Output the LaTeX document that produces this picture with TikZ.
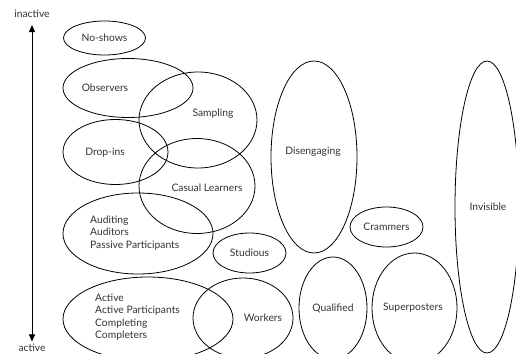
\documentclass[tikz,border=0pt]{standalone}
\usepackage{fontspec}
\setmainfont{Lato}
\usetikzlibrary{shapes.geometric, arrows.meta}

\tikzset{
  blob/.style={draw, ellipse, line width=0.8pt, inner sep=0pt},
  lbl/.style={text=black!80, font=\fontsize{10.3}{12.3}\selectfont, inner sep=1pt},
}

\begin{document}
\begin{tikzpicture}[x=1pt, y=-1pt]
  \useasboundingbox (0,0) rectangle (516,353);

  \node[lbl] (inactive) at (32,14) {inactive};
  \node[lbl, anchor=south] (active) at (32,352.5) {active};
  \draw[{Triangle[length=7pt,width=6pt]}-{Triangle[length=7pt,width=6pt]}, line width=0.9pt, shorten <=6pt, shorten >=1pt] (inactive) -- (active);

  \node[blob, minimum width=82pt, minimum height=34pt] (noshows) at (104.5,38) {};
  \node[blob, minimum width=130pt, minimum height=59pt] (observers) at (128,88) {};
  \node[blob, minimum width=118pt, minimum height=96pt] (sampling) at (198,120) {};
  \node[blob, minimum width=105pt, minimum height=65pt] (dropins) at (115.5,152) {};
  \node[blob, minimum width=116pt, minimum height=95pt] (casual) at (197,186) {};
  \node[blob, minimum width=150pt, minimum height=81pt] (auditing) at (138,233.5) {};
  \node[blob, minimum width=73pt, minimum height=40pt] (studious) at (249.5,253) {};
  \node[blob, minimum width=170pt, minimum height=84pt] (activeset) at (148,319) {};
  \node[blob, minimum width=100pt, minimum height=80pt] (workers) at (243,318) {};
  \node[blob, minimum width=86pt, minimum height=192pt] (disengaging) at (314,157) {};
  \node[blob, minimum width=73pt, minimum height=40pt] (crammers) at (386.5,227) {};
  \node[blob, minimum width=68pt, minimum height=102pt] (qualified) at (333,308) {};
  \node[blob, minimum width=85pt, minimum height=110pt] (superposters) at (414.5,308) {};
  \node[blob, minimum width=64pt, minimum height=292pt] (invisible) at (487,207) {};

  \node[lbl] (noshowstxt) at (104.5,38) {No-shows};
  \node[lbl] (observerstxt) at (105,88) {Observers};
  \node[lbl] (samplingtxt) at (213,114) {Sampling};
  \node[lbl] (dropinstxt) at (105,153) {Drop-ins};
  \node[lbl] (casualtxt) at (207,188) {Casual Learners};
  \node[lbl, anchor=west, align=left] (auditingtxt) at (89,233) {Auditing\\Auditors\\Passive Participants};
  \node[lbl] (studioustxt) at (249.5,253) {Studious};
  \node[lbl, anchor=west, align=left] (activetxt) at (94,317) {Active\\Active Participants\\Completing\\Completers};
  \node[lbl] (workerstxt) at (263,318) {Workers};
  \node[lbl] (disengagingtxt) at (313,152) {Disengaging};
  \node[lbl] (crammerstxt) at (386.5,227) {Crammers};
  \node[lbl] (qualifiedtxt) at (333,308) {Qualified};
  \node[lbl] (superposterstxt) at (413,308) {Superposters};
  \node[lbl] (invisibletxt) at (488,207) {Invisible};
\end{tikzpicture}
\end{document}
